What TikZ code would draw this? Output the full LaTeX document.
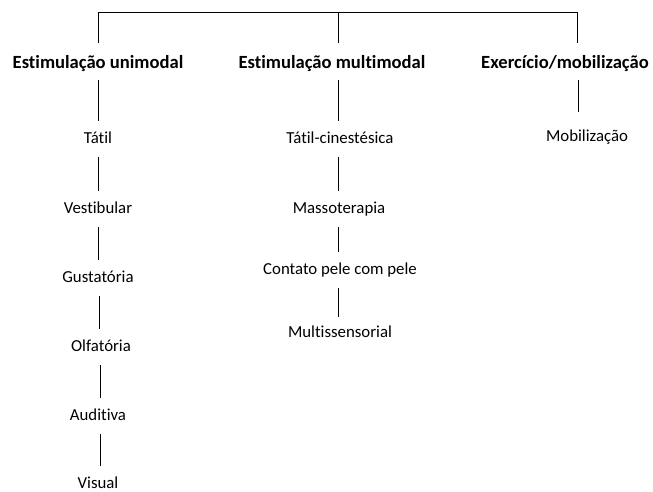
\documentclass[tikz,border=0pt]{standalone}
\usepackage{fontspec}
\setmainfont{Carlito}[Ligatures=NoCommon]
\begin{document}
\begin{tikzpicture}[x=1pt,y=-1pt,
  head/.style={font=\fontsize{18.6}{20}\selectfont\bfseries, inner sep=0pt, text height=12pt, text depth=4pt},
  item/.style={font=\fontsize{16.8}{19}\selectfont, inner sep=0pt, text height=12pt, text depth=4pt},
  conn/.style={draw=black, line width=0.9pt, shorten <=10pt, shorten >=10pt},
  hconn/.style={draw=black, line width=0.9pt, shorten <=7pt, shorten >=10pt}]
\useasboundingbox (0,0) rectangle (653,492);
% top bracket
\coordinate (t1) at (98,12);
\coordinate (t2) at (338,12);
\coordinate (t3) at (577,12);
\coordinate (b1) at (98,43);
\coordinate (b2) at (338,43);
\coordinate (b3) at (577,43);
\draw[line width=0.9pt] (b1) -- (t1) -- (t3) -- (b3);
\draw[line width=0.9pt] (t2) -- (b2);
% headings
\node[head] (h1) at (98,65) {Estimulação unimodal};
\node[head] (h2) at (332,65) {Estimulação multimodal};
\node[head] (h3) at (565,65) {Exercício/mobilização};
% left column
\node[item] (a1) at (98,139) {Tátil};
\node[item] (a2) at (98,209) {Vestibular};
\node[item] (a3) at (98,278) {Gustatória};
\node[item] (a4) at (101,347) {Olfatória};
\node[item] (a5) at (98,416) {Auditiva};
\node[item] (a6) at (98,484) {Visual};
\draw[hconn] (h1.south) -- (a1.north);
\draw[conn] (a1.south) -- (a1.south |- a2.north);
\draw[conn] (a2.south) -- (a2.south |- a3.north);
\draw[conn] ([xshift=1pt]a3.south) -- ([xshift=1pt]a3.south |- a4.north);
\draw[conn] ([xshift=-1pt]a4.south) -- ([xshift=-1pt]a4.south |- a5.north);
\draw[conn] ([xshift=2pt]a5.south) -- ([xshift=2pt]a5.south |- a6.north);
% middle column
\node[item] (m1) at (340,139) {Tátil-cinestésica};
\node[item] (m2) at (339,209) {Massoterapia};
\node[item] (m3) at (340,270) {Contato pele com pele};
\node[item] (m4) at (340,333) {Multissensorial};
\draw[hconn] ([xshift=6pt]h2.south) -- ([xshift=6pt]h2.south |- m1.north);
\draw[conn] ([xshift=-2pt]m1.south) -- ([xshift=-2pt]m1.south |- m2.north);
\draw[conn] ([xshift=-1pt]m2.south) -- ([xshift=-1pt]m2.south |- m3.north);
\draw[conn, shorten >=8pt] ([xshift=-2pt]m3.south) -- ([xshift=-2pt]m3.south |- m4.north);
% right column
\node[item] (r1) at (587,138) {Mobilização};
\draw[hconn, shorten >=18pt] ([xshift=13pt]h3.south) -- ([xshift=13pt]h3.south |- r1.north);
\end{tikzpicture}
\end{document}
